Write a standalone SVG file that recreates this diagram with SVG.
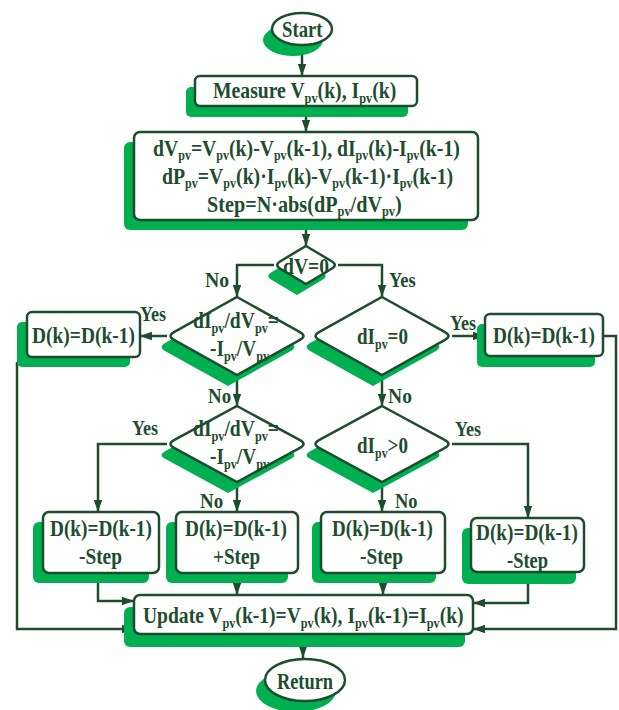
<svg xmlns="http://www.w3.org/2000/svg" width="619" height="710" viewBox="0 0 619 710">
  <style>
    .shadow { fill: #00b050; stroke: none; }
    .shape { fill: #ffffff; stroke: #1d4d2e; stroke-width: 2.5; }
    .t { font-family: "Liberation Serif", "Times New Roman", serif; font-weight: bold; font-size: 24px; fill: #1d4d2e; }
    .t2 { font-size: 23px; }
    .lbl { font-family: "Liberation Serif", "Times New Roman", serif; font-weight: bold; font-size: 22px; fill: #1d4d2e; }
    .s { font-size: 15px; }
    .s2 { font-size: 14px; }
    .wire { fill: none; stroke: #1d4d2e; stroke-width: 2.5; }
  </style>
  <defs>
    <marker id="arr" viewBox="0 0 12 10" refX="12" refY="5" markerWidth="12" markerHeight="10" markerUnits="userSpaceOnUse" orient="auto">
      <path d="M0,0.8 L12,5 L0,9.2 z" fill="#1d4d2e"/>
    </marker>
  </defs>

  <!-- connectors -->
  <g id="connectors" class="wire">
    <path d="M302 45 V76" marker-end="url(#arr)"/>
    <path d="M306 106 V132" marker-end="url(#arr)"/>
    <path d="M306 220 V246" marker-end="url(#arr)"/>
    <path d="M274 265 H237 V297" marker-end="url(#arr)"/>
    <path d="M338 265 H382 V297" marker-end="url(#arr)"/>
    <path d="M167 336 H140" marker-end="url(#arr)"/>
    <path d="M452 336 H485" marker-end="url(#arr)"/>
    <path d="M237 375 V406" marker-end="url(#arr)"/>
    <path d="M382 375 V406" marker-end="url(#arr)"/>
    <path d="M167 444 H98 V512" marker-end="url(#arr)"/>
    <path d="M237 482 V512" marker-end="url(#arr)"/>
    <path d="M382 482 V512" marker-end="url(#arr)"/>
    <path d="M452 444 H528 V518" marker-end="url(#arr)"/>
    <path d="M17 362 V629 H134" marker-end="url(#arr)"/>
    <path d="M603 336 H616 V629 H473" marker-end="url(#arr)"/>
    <path d="M98 573 V601 H134" marker-end="url(#arr)"/>
    <path d="M237 573 V595" marker-end="url(#arr)"/>
    <path d="M383 573 V595" marker-end="url(#arr)"/>
    <path d="M528 572 V603 H473" marker-end="url(#arr)"/>
    <path d="M303 634 V658" marker-end="url(#arr)"/>
  </g>

  <!-- branch labels -->
  <g id="labels" class="lbl">
    <text transform="translate(205,287) scale(0.9,1)">No</text>
    <text transform="translate(389,287) scale(0.84,1)">Yes</text>
    <text transform="translate(140,321) scale(0.82,1)">Yes</text>
    <text transform="translate(450,330) scale(0.82,1)">Yes</text>
    <text transform="translate(208,403) scale(0.86,1)">No</text>
    <text transform="translate(388,403) scale(0.89,1)">No</text>
    <text transform="translate(132,435) scale(0.82,1)">Yes</text>
    <text transform="translate(455,436) scale(0.82,1)">Yes</text>
    <text transform="translate(200,508) scale(0.86,1)">No</text>
    <text transform="translate(395,508) scale(0.84,1)">No</text>
  </g>

  <!-- start terminal -->
  <g id="start">
    <ellipse class="shadow" cx="293" cy="40" rx="30" ry="16"/>
    <ellipse class="shape" cx="302" cy="29" rx="30" ry="16"/>
    <text class="t" transform="translate(282,37) scale(0.78,1)">Start</text>
  </g>

  <!-- measurement -->
  <g id="measure">
    <rect class="shadow" x="186" y="87" width="222" height="30" rx="5"/>
    <rect class="shape" x="195" y="76" width="222" height="30" rx="5"/>
    <text class="t" transform="translate(213,98) scale(0.82,1)">Measure V<tspan class="s" dy="5">pv</tspan><tspan dy="-5">(k), I</tspan><tspan class="s" dy="5">pv</tspan><tspan dy="-5">(k)</tspan></text>
  </g>

  <!-- differences and step size -->
  <g id="compute">
    <rect class="shadow" x="124" y="142" width="344" height="88" rx="6"/>
    <rect class="shape" x="134" y="132" width="344" height="88" rx="6"/>
    <text class="t t2" transform="translate(153,156) scale(0.858,1)">dV<tspan class="s2" dy="4">pv</tspan><tspan dy="-4">=V</tspan><tspan class="s2" dy="4">pv</tspan><tspan dy="-4">(k)-V</tspan><tspan class="s2" dy="4">pv</tspan><tspan dy="-4">(k-1), dI</tspan><tspan class="s2" dy="4">pv</tspan><tspan dy="-4">(k)-I</tspan><tspan class="s2" dy="4">pv</tspan><tspan dy="-4">(k-1)</tspan></text>
    <text class="t t2" transform="translate(162,184) scale(0.86,1)">dP<tspan class="s2" dy="4">pv</tspan><tspan dy="-4">=V</tspan><tspan class="s2" dy="4">pv</tspan><tspan dy="-4">(k)·I</tspan><tspan class="s2" dy="4">pv</tspan><tspan dy="-4">(k)-V</tspan><tspan class="s2" dy="4">pv</tspan><tspan dy="-4">(k-1)·I</tspan><tspan class="s2" dy="4">pv</tspan><tspan dy="-4">(k-1)</tspan></text>
    <text class="t t2" transform="translate(207,212) scale(0.879,1)">Step=N·abs(dP<tspan class="s2" dy="4">pv</tspan><tspan dy="-4">/dV</tspan><tspan class="s2" dy="4">pv</tspan><tspan dy="-4">)</tspan></text>
  </g>

  <!-- dV=0 decision -->
  <g id="dec-dv">
    <path class="shadow" transform="translate(-9,11)" d="M306 246 L331.6 261.2 Q338 265 331.6 268.8 L306 284 L280.4 268.8 Q274 265 280.4 261.2 Z"/>
    <path class="shape" d="M306 246 L331.6 261.2 Q338 265 331.6 268.8 L306 284 L280.4 268.8 Q274 265 280.4 261.2 Z"/>
    <text class="t" transform="translate(283,274) scale(0.816,1)">dV=0</text>
  </g>

  <!-- incremental conductance check -->
  <g id="dec-inc1">
    <path class="shadow" transform="translate(-9,11)" d="M237 297 L300 332.1 Q307 336 300 339.9 L237 375 L174 339.9 Q167 336 174 332.1 Z"/>
    <path class="shape" d="M237 297 L300 332.1 Q307 336 300 339.9 L237 375 L174 339.9 Q167 336 174 332.1 Z"/>
    <text class="t" transform="translate(193,328) scale(0.816,1)">dI<tspan class="s" dy="5">pv</tspan><tspan dy="-5">/dV</tspan><tspan class="s" dy="5">pv</tspan><tspan dy="-5">=</tspan></text>
    <text class="t" transform="translate(210,356) scale(0.808,1)">-I<tspan class="s" dy="5">pv</tspan><tspan dy="-5">/V</tspan><tspan class="s" dy="5">pv</tspan></text>
  </g>

  <!-- dI=0 decision -->
  <g id="dec-di0">
    <path class="shadow" transform="translate(-9,11)" d="M382 297 L445 332.1 Q452 336 445 339.9 L382 375 L319 339.9 Q312 336 319 332.1 Z"/>
    <path class="shape" d="M382 297 L445 332.1 Q452 336 445 339.9 L382 375 L319 339.9 Q312 336 319 332.1 Z"/>
    <text class="t" transform="translate(357,344) scale(0.794,1)">dI<tspan class="s" dy="5">pv</tspan><tspan dy="-5">=0</tspan></text>
  </g>

  <!-- hold duty cycle (left) -->
  <g id="hold-left">
    <rect class="shadow" x="17" y="322" width="113" height="45" rx="5"/>
    <rect class="shape" x="27" y="312" width="113" height="45" rx="5"/>
    <text class="t" transform="translate(32,343) scale(0.811,1)">D(k)=D(k-1)</text>
  </g>

  <!-- hold duty cycle (right) -->
  <g id="hold-right">
    <rect class="shadow" x="477" y="324" width="118" height="43" rx="5"/>
    <rect class="shape" x="485" y="314" width="118" height="42" rx="5"/>
    <text class="t" transform="translate(493,343) scale(0.803,1)">D(k)=D(k-1)</text>
  </g>

  <!-- incremental conductance check (second) -->
  <g id="dec-inc2">
    <path class="shadow" transform="translate(-9,11)" d="M237 406 L300 440.2 Q307 444 300 447.8 L237 482 L174 447.8 Q167 444 174 440.2 Z"/>
    <path class="shape" d="M237 406 L300 440.2 Q307 444 300 447.8 L237 482 L174 447.8 Q167 444 174 440.2 Z"/>
    <text class="t" transform="translate(193,436) scale(0.816,1)">dI<tspan class="s" dy="5">pv</tspan><tspan dy="-5">/dV</tspan><tspan class="s" dy="5">pv</tspan><tspan dy="-5">=</tspan></text>
    <text class="t" transform="translate(210,464) scale(0.808,1)">-I<tspan class="s" dy="5">pv</tspan><tspan dy="-5">/V</tspan><tspan class="s" dy="5">pv</tspan></text>
  </g>

  <!-- dI>0 decision -->
  <g id="dec-dipos">
    <path class="shadow" transform="translate(-9,11)" d="M382 406 L445 440.2 Q452 444 445 447.8 L382 482 L319 447.8 Q312 444 319 440.2 Z"/>
    <path class="shape" d="M382 406 L445 440.2 Q452 444 445 447.8 L382 482 L319 447.8 Q312 444 319 440.2 Z"/>
    <text class="t" transform="translate(357,453) scale(0.794,1)">dI<tspan class="s" dy="5">pv</tspan><tspan dy="-5">&gt;0</tspan></text>
  </g>

  <!-- duty cycle updates -->
  <g id="step-1">
    <rect class="shadow" x="33" y="522" width="116" height="61" rx="6"/>
    <rect class="shape" x="43" y="512" width="116" height="61" rx="6"/>
    <text class="t" transform="translate(50,536) scale(0.803,1)">D(k)=D(k-1)</text>
    <text class="t" transform="translate(79,564) scale(0.806,1)">-Step</text>
  </g>
  <g id="step-2">
    <rect class="shadow" x="166" y="522" width="122" height="61" rx="6"/>
    <rect class="shape" x="176" y="512" width="122" height="61" rx="6"/>
    <text class="t" transform="translate(185,536) scale(0.803,1)">D(k)=D(k-1)</text>
    <text class="t" transform="translate(213,564) scale(0.798,1)">+Step</text>
  </g>
  <g id="step-3">
    <rect class="shadow" x="312" y="522" width="124" height="61" rx="6"/>
    <rect class="shape" x="321" y="512" width="124" height="61" rx="6"/>
    <text class="t" transform="translate(332,536) scale(0.795,1)">D(k)=D(k-1)</text>
    <text class="t" transform="translate(360,564) scale(0.806,1)">-Step</text>
  </g>
  <g id="step-4">
    <rect class="shadow" x="462" y="528" width="114" height="56" rx="6"/>
    <rect class="shape" x="471" y="518" width="113" height="54" rx="6"/>
    <text class="t" transform="translate(476,540) scale(0.803,1)">D(k)=D(k-1)</text>
    <text class="t" transform="translate(507,568) scale(0.77,1)">-Step</text>
  </g>

  <!-- store previous samples -->
  <g id="update">
    <rect class="shadow" x="124" y="607" width="341" height="40" rx="6"/>
    <rect class="shape" x="134" y="595" width="339" height="39" rx="6"/>
    <text class="t" transform="translate(143,623) scale(0.815,1)">Update V<tspan class="s" dy="5">pv</tspan><tspan dy="-5">(k-1)=V</tspan><tspan class="s" dy="5">pv</tspan><tspan dy="-5">(k), I</tspan><tspan class="s" dy="5">pv</tspan><tspan dy="-5">(k-1)=I</tspan><tspan class="s" dy="5">pv</tspan><tspan dy="-5">(k)</tspan></text>
  </g>

  <!-- return terminal -->
  <g id="return">
    <ellipse class="shadow" cx="296" cy="691" rx="40" ry="21"/>
    <ellipse class="shape" cx="305" cy="680" rx="40" ry="21"/>
    <text class="t" transform="translate(277,689) scale(0.764,1)">Return</text>
  </g>
</svg>
